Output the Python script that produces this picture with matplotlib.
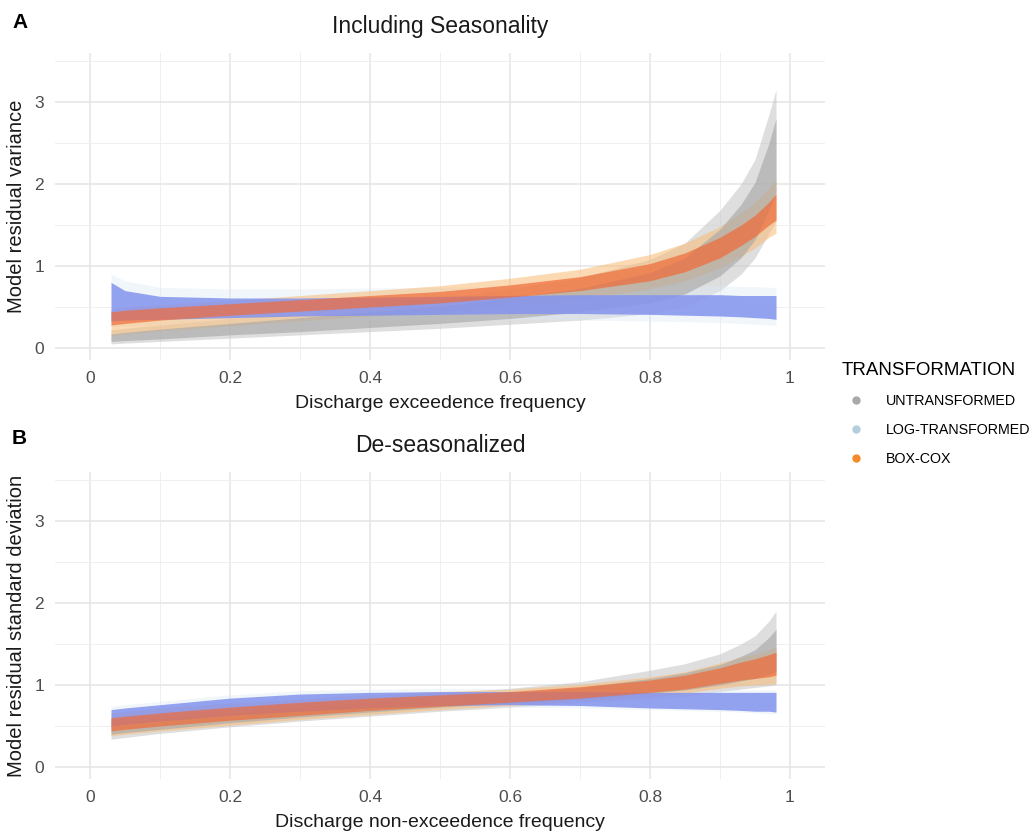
import matplotlib
matplotlib.use("Agg")
import matplotlib.pyplot as plt
from matplotlib.lines import Line2D

plt.rcParams['font.family'] = ['Liberation Sans', 'DejaVu Sans']

# exceedence / non-exceedence frequency grid
freq = [0.03, 0.05, 0.1, 0.2, 0.3, 0.4, 0.5, 0.6, 0.7, 0.8, 0.85, 0.9, 0.93, 0.95, 0.97, 0.98]

# ---- Panel A: Model residual variance (including seasonality) ----
a_untr_out_lo = [0.05, 0.06, 0.08, 0.12, 0.16, 0.20, 0.24, 0.29, 0.34, 0.42, 0.50, 0.70, 0.90, 1.10, 1.40, 1.55]
a_untr_out_hi = [0.22, 0.24, 0.28, 0.36, 0.44, 0.52, 0.60, 0.72, 0.86, 1.08, 1.28, 1.68, 2.00, 2.30, 2.85, 3.15]
a_untr_in_lo  = [0.08, 0.09, 0.11, 0.16, 0.20, 0.25, 0.30, 0.36, 0.44, 0.55, 0.66, 0.88, 1.10, 1.32, 1.68, 1.90]
a_untr_in_hi  = [0.17, 0.19, 0.23, 0.30, 0.37, 0.44, 0.51, 0.61, 0.73, 0.92, 1.10, 1.45, 1.75, 2.02, 2.50, 2.80]

a_log_out_lo = [0.26, 0.27, 0.28, 0.30, 0.32, 0.33, 0.34, 0.34, 0.34, 0.33, 0.32, 0.31, 0.30, 0.29, 0.28, 0.28]
a_log_out_hi = [0.90, 0.82, 0.74, 0.72, 0.72, 0.73, 0.74, 0.75, 0.76, 0.76, 0.76, 0.76, 0.75, 0.75, 0.74, 0.74]
a_log_in_lo  = [0.33, 0.34, 0.35, 0.37, 0.39, 0.40, 0.41, 0.42, 0.42, 0.41, 0.40, 0.39, 0.38, 0.37, 0.36, 0.35]
a_log_in_hi  = [0.80, 0.70, 0.63, 0.61, 0.61, 0.62, 0.63, 0.64, 0.65, 0.65, 0.65, 0.65, 0.64, 0.64, 0.64, 0.64]

a_box_out_lo = [0.15, 0.17, 0.21, 0.27, 0.33, 0.39, 0.45, 0.52, 0.60, 0.72, 0.82, 0.98, 1.12, 1.22, 1.35, 1.40]
a_box_out_hi = [0.48, 0.50, 0.53, 0.58, 0.64, 0.70, 0.76, 0.85, 0.96, 1.14, 1.28, 1.48, 1.65, 1.78, 1.95, 2.05]
a_box_in_lo  = [0.28, 0.30, 0.34, 0.40, 0.45, 0.50, 0.55, 0.62, 0.70, 0.82, 0.93, 1.10, 1.25, 1.36, 1.50, 1.56]
a_box_in_hi  = [0.44, 0.46, 0.49, 0.54, 0.59, 0.64, 0.69, 0.77, 0.87, 1.03, 1.16, 1.35, 1.50, 1.62, 1.78, 1.88]

# ---- Panel B: Model residual standard deviation (de-seasonalized) ----
b_untr_out_lo = [0.34, 0.36, 0.41, 0.49, 0.56, 0.62, 0.68, 0.73, 0.78, 0.83, 0.86, 0.92, 0.95, 0.97, 0.99, 1.00]
b_untr_out_hi = [0.58, 0.60, 0.64, 0.71, 0.78, 0.84, 0.90, 0.96, 1.04, 1.18, 1.26, 1.38, 1.50, 1.60, 1.78, 1.90]
b_untr_in_lo  = [0.40, 0.42, 0.46, 0.54, 0.61, 0.67, 0.73, 0.78, 0.83, 0.90, 0.94, 1.00, 1.05, 1.08, 1.13, 1.16]
b_untr_in_hi  = [0.53, 0.55, 0.59, 0.66, 0.73, 0.79, 0.85, 0.90, 0.97, 1.08, 1.15, 1.25, 1.35, 1.43, 1.58, 1.68]

b_log_out_lo = [0.47, 0.49, 0.53, 0.60, 0.65, 0.69, 0.72, 0.73, 0.72, 0.70, 0.69, 0.68, 0.67, 0.66, 0.65, 0.65]
b_log_out_hi = [0.74, 0.76, 0.80, 0.88, 0.93, 0.95, 0.96, 0.96, 0.95, 0.94, 0.94, 0.94, 0.94, 0.94, 0.94, 0.94]
b_log_in_lo  = [0.50, 0.52, 0.56, 0.63, 0.68, 0.72, 0.75, 0.76, 0.75, 0.72, 0.71, 0.70, 0.69, 0.68, 0.68, 0.67]
b_log_in_hi  = [0.70, 0.72, 0.76, 0.84, 0.89, 0.91, 0.92, 0.92, 0.92, 0.91, 0.91, 0.91, 0.91, 0.91, 0.91, 0.91]

b_box_out_lo = [0.38, 0.40, 0.44, 0.51, 0.58, 0.64, 0.70, 0.75, 0.80, 0.86, 0.90, 0.96, 0.99, 1.00, 1.01, 1.02]
b_box_out_hi = [0.66, 0.68, 0.72, 0.78, 0.83, 0.88, 0.92, 0.95, 1.01, 1.10, 1.16, 1.27, 1.34, 1.38, 1.43, 1.47]
b_box_in_lo  = [0.44, 0.46, 0.50, 0.57, 0.63, 0.69, 0.74, 0.79, 0.84, 0.91, 0.95, 1.02, 1.06, 1.08, 1.10, 1.12]
b_box_in_hi  = [0.60, 0.62, 0.66, 0.73, 0.79, 0.84, 0.88, 0.92, 0.98, 1.06, 1.12, 1.21, 1.28, 1.32, 1.37, 1.40]

x_ticks = [0, 0.2, 0.4, 0.6, 0.8, 1]
x_ticklabels = ["0", "0.2", "0.4", "0.6", "0.8", "1"]
y_ticks = [0, 1, 2, 3]
y_ticklabels = ["0", "1", "2", "3"]

labels = ["UNTRANSFORMED", "LOG-TRANSFORMED", "BOX-COX"]
legend_colors = ["#a9a9a9", "#b4cfdc", "#f58a2a"]

band_styles = {
    "untr": dict(out=("#c4c4c4", 0.55), inn=("#a9a9a9", 0.65)),
    "log": dict(out=("#dde9f5", 0.40), inn=("#8393ee", 0.85)),
    "box": dict(out=("#f8bb74", 0.55), inn=("#f06b38", 0.70)),
}

fig = plt.figure(figsize=(10.35, 8.31), dpi=100)
ax_a = fig.add_axes([55/1035, 1 - 360.3/831, 770/1035, 307.5/831])
ax_b = fig.add_axes([55/1035, 1 - 779.3/831, 770/1035, 307.5/831])

panels = [
    (ax_a, "Including Seasonality", "Discharge exceedence frequency", "Model residual variance",
     {"untr": (a_untr_out_lo, a_untr_out_hi, a_untr_in_lo, a_untr_in_hi),
      "log": (a_log_out_lo, a_log_out_hi, a_log_in_lo, a_log_in_hi),
      "box": (a_box_out_lo, a_box_out_hi, a_box_in_lo, a_box_in_hi)}),
    (ax_b, "De-seasonalized", "Discharge non-exceedence frequency", "Model residual standard deviation",
     {"untr": (b_untr_out_lo, b_untr_out_hi, b_untr_in_lo, b_untr_in_hi),
      "log": (b_log_out_lo, b_log_out_hi, b_log_in_lo, b_log_in_hi),
      "box": (b_box_out_lo, b_box_out_hi, b_box_in_lo, b_box_in_hi)}),
]

for ax, title, xlabel, ylabel, data in panels:
    ax.set_facecolor("white")
    for sp in ax.spines.values():
        sp.set_visible(False)
    ax.set_xlim(-0.05, 1.05)
    ax.set_ylim(-0.15, 3.6)
    ax.set_xticks(x_ticks)
    ax.set_xticklabels(x_ticklabels)
    ax.set_yticks(y_ticks)
    ax.set_yticklabels(y_ticklabels)
    ax.set_xticks([0.1, 0.3, 0.5, 0.7, 0.9], minor=True)
    ax.set_yticks([0.5, 1.5, 2.5, 3.5], minor=True)
    ax.tick_params(which="both", length=0, labelsize=12.5, labelcolor="#4d4d4d", pad=8)
    ax.grid(which="major", color="#e6e6e6", linewidth=1.2)
    ax.grid(which="minor", color="#efefef", linewidth=0.7)
    ax.set_axisbelow(True)
    ax.set_title(title, fontsize=16.5, pad=14, color="#1a1a1a")
    ax.set_xlabel(xlabel, fontsize=14, labelpad=6, color="#1a1a1a")
    ax.set_ylabel(ylabel, fontsize=14.5, labelpad=6, color="#1a1a1a")

    for key in ["untr", "log", "box"]:
        olo, ohi, ilo, ihi = data[key]
        c, a = band_styles[key]["out"]
        ax.fill_between(freq, olo, ohi, color=c, alpha=a, linewidth=0)
    for key in ["untr", "log", "box"]:
        olo, ohi, ilo, ihi = data[key]
        c, a = band_styles[key]["inn"]
        ax.fill_between(freq, ilo, ihi, color=c, alpha=a, linewidth=0)

fig.text(12/1035, 1 - 23/831, "A", fontsize=15, fontweight="bold", va="center", ha="left")
fig.text(12/1035, 1 - 439/831, "B", fontsize=15, fontweight="bold", va="center", ha="left")

handles = [Line2D([0], [0], marker="o", linestyle="none", markersize=5,
                  markerfacecolor=c, markeredgecolor=c) for c in legend_colors]
leg = fig.legend(handles, labels, title="TRANSFORMATION", loc="upper left",
                 bbox_to_anchor=(836/1035, 1 - 356/831), frameon=False,
                 fontsize=10.3, title_fontsize=13.5, labelspacing=1.05,
                 handletextpad=1.1, borderaxespad=0)
leg._legend_box.align = "left"

fig.savefig("out.png", dpi=100, facecolor="white")
